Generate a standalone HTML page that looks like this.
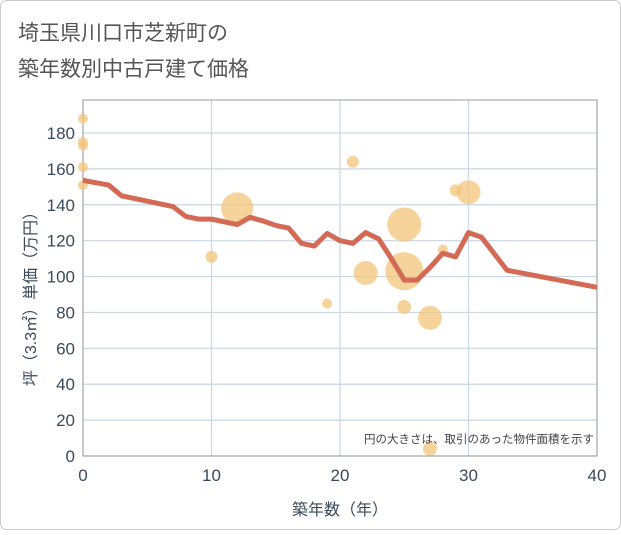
<!DOCTYPE html><html><head><meta charset="utf-8"><style>body{margin:0;background:#fff}svg{font-family:"Liberation Sans","Noto Sans CJK JP",sans-serif}</style></head><body>
<svg width="621" height="530">
<rect x="0.5" y="0.5" width="620" height="529" rx="6" fill="#fff" stroke="#ccc"/>
<text x="18" y="40" font-size="21" fill="#555">埼玉県川口市芝新町の</text>
<text x="18" y="76" font-size="21" fill="#555">築年数別中古戸建て価格</text>
<g id="grid"></g>
<g id="bubbles"></g>
<path id="line" fill="none" stroke="#d46a55" stroke-width="5" stroke-linejoin="round"/>
<text x="594" y="443" font-size="11.5" fill="#444" text-anchor="end">円の大きさは、取引のあった物件面積を示す</text>
<text x="340" y="515" font-size="16" fill="#3b4a5a" text-anchor="middle">築年数（年）</text>
<text transform="translate(36,295) rotate(-90)" font-size="16" fill="#3b4a5a" text-anchor="middle">坪（3.3㎡）単価（万円）</text>
</svg>
<script>
const xTicks=[0,10,20,30,40];
const yTicks=[0,20,40,60,80,100,120,140,160,180];
const lineYears=[0,2,3,7,8,9,10,12,13,14,15,16,17,18,19,20,21,22,23,24,25,26,27,28,29,30,31,33,40];
const lineValues=[153.6,151,145,139,133.5,132,132,129,133,131,128.5,127,118.5,117,124,120,118.5,124.5,121,110,98,98,105,113,111,124.5,122,103.5,94];
const bubbleYears=[0,0,0,0,0,10,12,19,21,22,25,25,25,27,27,28,29,30];
const bubbleValues=[188,175,173,161,151,111,138,85,164,102,129,103,83,77,4,115,148,147];
const bubbleRadius=[5,5,5,5,5,6,16,5,6,12,17,19,7,12,7,5,6,12];
const X=v=>83+v*(514/40), Y=v=>456-v*(323/180);
const ns='http://www.w3.org/2000/svg';
const g=document.getElementById('grid');
function mk(tag,at,parent){const e=document.createElementNS(ns,tag);for(const k in at)e.setAttribute(k,at[k]);parent.appendChild(e);return e;}
yTicks.forEach(t=>{const l=mk('line',{x1:83,x2:597,y1:Y(t),y2:Y(t),stroke:'#c9d6e3','stroke-width':1.2},g);


const tx=mk('text',{x:75,y:Y(t)+6,'font-size':17,fill:'#3b4a5a','text-anchor':'end'},g);tx.textContent=t;

});
xTicks.forEach(t=>{const l=mk('line',{y1:100,y2:456,x1:X(t),x2:X(t),stroke:'#c9d6e3','stroke-width':1.2},g);


const tx=mk('text',{x:X(t),y:481,'font-size':17,fill:'#3b4a5a','text-anchor':'middle'},g);tx.textContent=t;

});
const b=mk('rect',{x:83,y:100,width:514,height:356,fill:'none',stroke:'#999'},g);


const bg=document.getElementById('bubbles');
bubbleYears.forEach((yr,i)=>{const c=mk('circle',{cx:X(yr),cy:Y(bubbleValues[i]),r:bubbleRadius[i],fill:'#f3c47a','fill-opacity':0.75},bg);

});
document.getElementById('line').setAttribute('d',lineYears.map((yr,i)=>(i?'L':'M')+X(yr)+','+Y(lineValues[i])).join(''));
</script></body></html>
